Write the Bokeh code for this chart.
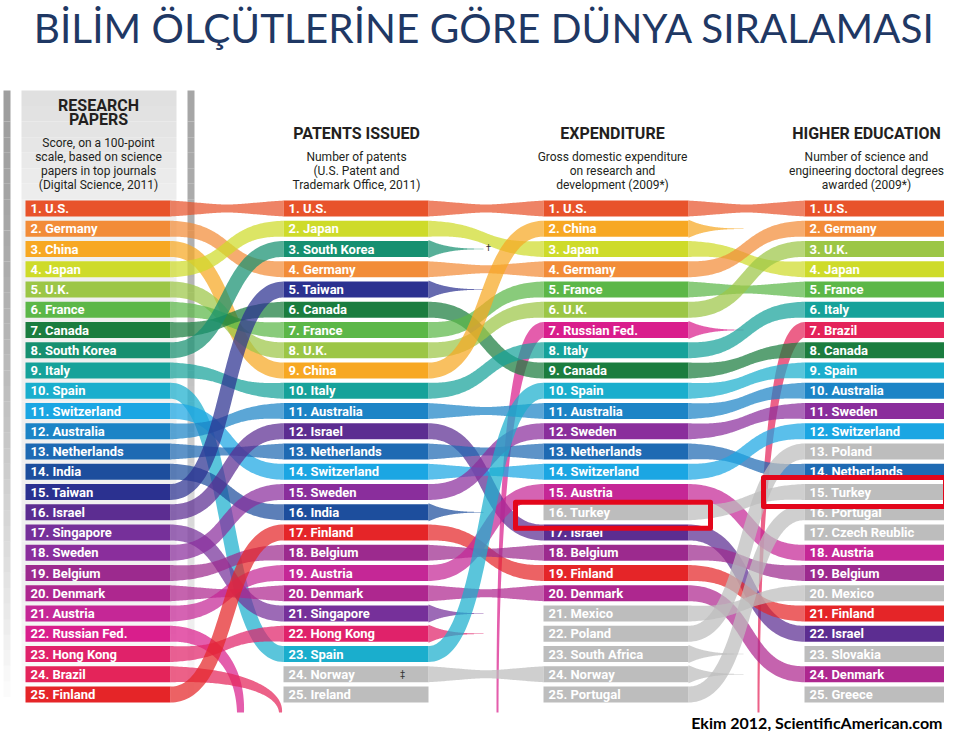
import numpy as np
from bokeh.plotting import figure
from bokeh.models import Range1d, ColumnDataSource
from bokeh.embed import file_html
from bokeh.resources import INLINE
from bokeh.core.properties import value

# ---------------- data ----------------
title_text = "BİLİM ÖLÇÜTLERİNE GÖRE DÜNYA SIRALAMASI"
footer_text = "Ekim 2012, ScientificAmerican.com"

research_papers = ["U.S.", "Germany", "China", "Japan", "U.K.", "France", "Canada",
                   "South Korea", "Italy", "Spain", "Switzerland", "Australia",
                   "Netherlands", "India", "Taiwan", "Israel", "Singapore", "Sweden",
                   "Belgium", "Denmark", "Austria", "Russian Fed.", "Hong Kong",
                   "Brazil", "Finland"]
patents_issued = ["U.S.", "Japan", "South Korea", "Germany", "Taiwan", "Canada", "France",
                  "U.K.", "China", "Italy", "Australia", "Israel", "Netherlands",
                  "Switzerland", "Sweden", "India", "Finland", "Belgium", "Austria",
                  "Denmark", "Singapore", "Hong Kong", "Spain", "Norway", "Ireland"]
expenditure = ["U.S.", "China", "Japan", "Germany", "France", "U.K.", "Russian Fed.",
               "Italy", "Canada", "Spain", "Australia", "Sweden", "Netherlands",
               "Switzerland", "Austria", "Turkey", "Israel", "Belgium", "Finland",
               "Denmark", "Mexico", "Poland", "South Africa", "Norway", "Portugal"]
higher_education = ["U.S.", "Germany", "U.K.", "Japan", "France", "Italy", "Brazil",
                    "Canada", "Spain", "Australia", "Sweden", "Switzerland", "Poland",
                    "Netherlands", "Turkey", "Portugal", "Czech Reublic", "Austria",
                    "Belgium", "Mexico", "Finland", "Israel", "Slovakia", "Denmark",
                    "Greece"]
rankings = [research_papers, patents_issued, expenditure, higher_education]

column_titles = [["RESEARCH", "PAPERS"], ["PATENTS ISSUED"], ["EXPENDITURE"],
                 ["HIGHER EDUCATION"]]
column_notes = [["Score, on a 100-point", "scale, based on science",
                 "papers in top journals", "(Digital Science, 2011)"],
                ["Number of patents", "(U.S. Patent and", "Trademark Office, 2011)"],
                ["Gross domestic expenditure", "on research and", "development (2009*)"],
                ["Number of science and", "engineering doctoral degrees",
                 "awarded (2009*)"]]

highlight_country = "Turkey"
no_taper = ["Ireland"]

country_colors = {
    "U.S.": "#E8532B", "Germany": "#F28C38", "China": "#F7A823", "Japan": "#CEDB2A",
    "U.K.": "#9CC646", "France": "#5CB748", "Canada": "#1B7D3F", "South Korea": "#169070",
    "Italy": "#16A29A", "Spain": "#1AAECD", "Switzerland": "#1BA6E3",
    "Australia": "#1C84C6", "Netherlands": "#1E6AB3", "India": "#1D4E9D",
    "Taiwan": "#2B3190", "Israel": "#5C2D91", "Singapore": "#76309A",
    "Sweden": "#8A2E9C", "Belgium": "#9C2A8E", "Denmark": "#AE278F",
    "Austria": "#C52796", "Russian Fed.": "#D91E8C", "Hong Kong": "#E0226A",
    "Brazil": "#E4245A", "Finland": "#E52528",
}
OTHER = "#BDBDBD"

# ---------------- layout (style) ----------------
W, H = 944, 731
COL_X = [25, 283, 543, 804]
BAR_W = 145
BAR_H = 16
ROW0 = 208
DY = 20.25
BOTTOM = 712
RIB_ALPHA = 0.72
TAPER_LEN = 55


def col_color(c):
    return country_colors.get(c, OTHER)


def ry(rank):
    return ROW0 + (rank - 1) * DY


def bez(p0, p1, p2, p3, n=90):
    p0, p1, p2, p3 = (np.array(p, float) for p in (p0, p1, p2, p3))
    t = np.linspace(0, 1, n)[:, None]
    pts = (1 - t) ** 3 * p0 + 3 * (1 - t) ** 2 * t * p1 + 3 * (1 - t) * t ** 2 * p2 + t ** 3 * p3
    d = 3 * (1 - t) ** 2 * (p1 - p0) + 6 * (1 - t) * t * (p2 - p1) + 3 * t ** 2 * (p3 - p2)
    return t.ravel(), pts, d


def band(pts, d, w):
    nrm = np.stack([-d[:, 1], d[:, 0]], 1)
    ln = np.hypot(nrm[:, 0], nrm[:, 1])
    ln[ln == 0] = 1
    nrm = nrm / ln[:, None]
    up = pts + nrm * (w[:, None] / 2)
    lo = pts - nrm * (w[:, None] / 2)
    xs = np.concatenate([up[:, 0], lo[::-1, 0]])
    ys = np.concatenate([up[:, 1], lo[::-1, 1]])
    return list(xs), list(ys)


rib_xs, rib_ys, rib_c = [], [], []

for ci in range(3):
    cur, nxt = rankings[ci], rankings[ci + 1]
    x0 = COL_X[ci] + BAR_W
    x1 = COL_X[ci + 1]
    dx = x1 - x0
    for r, c in enumerate(cur, start=1):
        y0 = ry(r)
        if c in nxt:
            y1 = ry(nxt.index(c) + 1)
            t, pts, d = bez((x0, y0), (x0 + 0.55 * dx, y0), (x1 - 0.55 * dx, y1), (x1, y1))
            pinch = max(0.12, 0.5 * np.exp(-abs(y1 - y0) / 45))
            w = BAR_H * (1 - pinch * np.sin(np.pi * t))
        else:
            later = [j for j in range(ci + 2, 4) if c in rankings[j]]
            if later:
                k = sum(1 for cc in cur[:r - 1] if cc not in nxt and
                        any(cc in rankings[j] for j in range(ci + 2, 4)))
                xb = x0 + 70 + 40 * k
                t, pts, d = bez((x0, y0), (x0 + 0.6 * (xb - x0), y0),
                                (xb, y0 + 0.4 * (BOTTOM - y0)), (xb, BOTTOM))
                w = BAR_H - (BAR_H - (7 - 4 * k)) * t
                xs, ys = band(pts, d, w)
                rib_xs.append(xs); rib_ys.append(ys); rib_c.append(col_color(c))
                j = later[0]
                xd = COL_X[j]
                yd = ry(rankings[j].index(c) + 1)
                xr = xd - 46
                t, pts, d = bez((xr, BOTTOM), (xr, yd + 0.35 * (BOTTOM - yd)),
                                (xr + 0.4 * (xd - xr), yd), (xd, yd))
                w = 2 + (BAR_H - 2) * t ** 1.5
            elif c in no_taper:
                continue
            else:
                t, pts, d = bez((x0, y0), (x0 + TAPER_LEN / 3, y0),
                                (x0 + 2 * TAPER_LEN / 3, y0), (x0 + TAPER_LEN, y0))
                w = BAR_H * (1 - t) ** 3 + 1.5 * (1 - t) + 0.4
        xs, ys = band(pts, d, w)
        rib_xs.append(xs); rib_ys.append(ys); rib_c.append(col_color(c))

# bars
bx, by, bc, bl, lx = [], [], [], [], []
for ci, col in enumerate(rankings):
    for r, c in enumerate(col, start=1):
        bx.append(COL_X[ci] + BAR_W / 2)
        by.append(ry(r))
        bc.append(col_color(c))
        bl.append(f"{r}. {c}")
        lx.append(COL_X[ci] + 5)

# ---------------- figure ----------------
p = figure(width=W, height=H, x_range=Range1d(0, W), y_range=Range1d(H, 0),
           output_backend="svg", toolbar_location=None, min_border=0,
           x_axis_location=None, y_axis_location=None)
p.grid.visible = False
p.outline_line_color = None
p.background_fill_color = "white"

# panel behind first column (gradient by slices)
n_sl = 40
edges = np.linspace(90, BOTTOM, n_sl + 1)
sl_cols = []
for i in range(n_sl):
    f = i / (n_sl - 1)
    if f < 0.18:
        g = 224 + (240 - 224) * f / 0.18
    elif f < 0.8:
        g = 240
    else:
        g = 240 + (255 - 240) * (f - 0.8) / 0.2
    g = int(g)
    sl_cols.append(f"#{g:02x}{g:02x}{g:02x}")
p.quad(left=21, right=176, top=list(edges[:-1]), bottom=list(edges[1:]),
       fill_color=sl_cols, line_color=None)
strip_a = list(np.clip(1.0 - np.linspace(0, 1, n_sl) ** 1.5, 0, 1))
p.quad(left=187, right=194, top=list(edges[:-1]), bottom=list(edges[1:]),
       fill_color="#A6A6A6", fill_alpha=strip_a, line_color=None)
p.quad(left=3, right=10, top=list(edges[:-1]), bottom=list(edges[1:]),
       fill_color="#9E9E9E", fill_alpha=strip_a, line_color=None)

# ribbons
p.patches(xs=rib_xs, ys=rib_ys, fill_color=rib_c, fill_alpha=RIB_ALPHA, line_color=None)

# bars
bsrc = ColumnDataSource(dict(x=bx, y=by, c=bc, t=bl, lx=lx))
p.rect(x="x", y="y", width=BAR_W, height=BAR_H, fill_color="c", line_color=None,
       source=bsrc)
p.text(x="lx", y="y", text="t", source=bsrc, text_color="white",
       text_font=value("Roboto"), text_font_style="bold", text_font_size="13px",
       text_baseline="middle", text_align="left")

# headers
COL_CX = [98, 356, 612, 866]
hx, hy, ht = [], [], []
nx, ny, nt = [], [], []
for ci in range(4):
    lines = column_titles[ci]
    top = 105 if len(lines) > 1 else 133
    for k, s in enumerate(lines):
        hx.append(COL_CX[ci]); hy.append(top + 14 * k); ht.append(s)
    ntop = 142 if len(lines) > 1 else 156
    for k, s in enumerate(column_notes[ci]):
        nx.append(COL_CX[ci]); ny.append(ntop + 14 * k); nt.append(s)
p.text(x=hx, y=hy, text=ht, text_color="#231F20", text_font=value("Roboto"),
       text_font_style="bold", text_font_size="16px", text_align="center",
       text_baseline="middle")
p.text(x=nx, y=ny, text=nt, text_color="#231F20", text_font=value("Roboto"),
       text_font_size="12px", text_align="center", text_baseline="middle")

# footnote marks
p.text(x=[COL_X[1] + BAR_W + TAPER_LEN + 5, COL_X[1] + 119],
       y=[ry(patents_issued.index("South Korea") + 1) - 1,
          ry(patents_issued.index("Norway") + 1)],
       text=["†", "‡"], text_color="#333333", text_font=value("Roboto"),
       text_font_size="9px", text_align="center", text_baseline="middle")

# highlight boxes
hl_left, hl_right, hl_top, hl_bot = [], [], [], []
pads = {2: (28, 22, 13, 3), 3: (41, -4, 14.5, 0)}
for ci, (pl, pr, ph, off) in pads.items():
    r = rankings[ci].index(highlight_country) + 1
    yc = ry(r) + off
    hl_left.append(COL_X[ci] - pl); hl_right.append(COL_X[ci] + BAR_W + pr)
    hl_top.append(yc - ph); hl_bot.append(yc + ph)
p.quad(left=hl_left, right=hl_right, top=hl_top, bottom=hl_bot, fill_alpha=0,
       line_color="#E3061B", line_width=5, line_join="round")

# title & footer
p.text(x=[484], y=[27], text=[title_text], text_color="#1F3864",
       text_font=value("Lato"), text_font_size="40.5px", text_align="center",
       text_baseline="middle")
p.text(x=[942], y=[722], text=[footer_text], text_color="#000000",
       text_font=value("Lato"), text_font_style="bold", text_font_size="16px",
       text_align="right", text_baseline="middle")

open("out.html", "w").write(file_html(p, INLINE))
